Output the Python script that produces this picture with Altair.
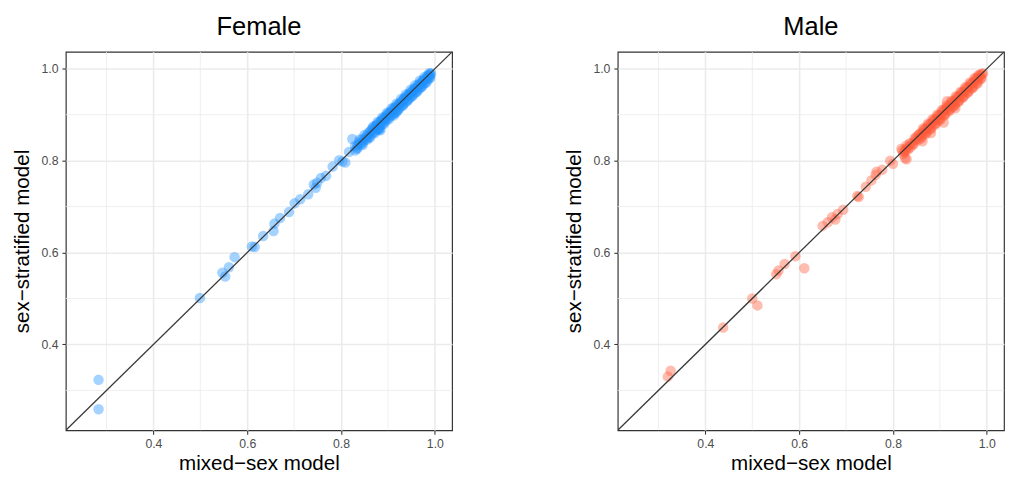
import altair as alt
import pandas as pd

# ---------------- data ----------------
female_mixed = [
    0.283, 0.283, 0.499, 0.547, 0.553, 0.561, 0.573, 0.610, 0.616, 0.634,
    0.656, 0.658, 0.670, 0.689, 0.701, 0.713, 0.730, 0.742, 0.749, 0.746,
    0.757, 0.768, 0.782, 0.796, 0.803, 0.809, 0.817, 0.824, 0.830, 0.835,
    0.830, 0.834, 0.838, 0.842, 0.845, 0.848, 0.852, 0.855, 0.858, 0.860,
    0.862, 0.865, 0.867, 0.870, 0.872, 0.874, 0.876, 0.878, 0.880, 0.882,
    0.884, 0.886, 0.888, 0.890, 0.892, 0.894, 0.896, 0.898, 0.900, 0.902,
    0.904, 0.906, 0.908, 0.910, 0.912, 0.914, 0.916, 0.918, 0.920, 0.922,
    0.924, 0.926, 0.928, 0.930, 0.932, 0.934, 0.936, 0.938, 0.940, 0.942,
    0.944, 0.946, 0.948, 0.950, 0.952, 0.954, 0.956, 0.958, 0.960, 0.962,
    0.964, 0.966, 0.968, 0.970, 0.972, 0.974, 0.976, 0.978, 0.980, 0.982,
    0.984, 0.986, 0.988, 0.990, 0.985, 0.975, 0.965, 0.955, 0.945, 0.935,
    0.925, 0.915, 0.905, 0.895, 0.885, 0.875, 0.865, 0.855, 0.845, 0.835,
    0.884, 0.917, 0.880, 0.988, 0.990, 0.992,
    0.862, 0.872, 0.882, 0.892, 0.902, 0.912, 0.922, 0.932, 0.942, 0.952,
    0.962, 0.972, 0.982, 0.990, 0.868, 0.878, 0.888, 0.898, 0.908, 0.918,
    0.928, 0.938, 0.948, 0.958, 0.968, 0.978, 0.840, 0.850, 0.846, 0.856,
]
female_stratified = [
    0.323, 0.259, 0.501, 0.556, 0.548, 0.568, 0.590, 0.613, 0.612, 0.636,
    0.647, 0.663, 0.675, 0.688, 0.707, 0.716, 0.727, 0.748, 0.752, 0.741,
    0.762, 0.767, 0.787, 0.801, 0.798, 0.796, 0.819, 0.847, 0.822, 0.828,
    0.832, 0.826, 0.840, 0.836, 0.846, 0.842, 0.850, 0.848, 0.860, 0.852,
    0.864, 0.858, 0.870, 0.862, 0.874, 0.866, 0.878, 0.870, 0.868, 0.884,
    0.876, 0.888, 0.880, 0.892, 0.884, 0.894, 0.888, 0.900, 0.892, 0.904,
    0.896, 0.906, 0.900, 0.912, 0.902, 0.914, 0.906, 0.918, 0.910, 0.922,
    0.914, 0.926, 0.918, 0.930, 0.922, 0.934, 0.926, 0.938, 0.930, 0.942,
    0.934, 0.946, 0.938, 0.950, 0.942, 0.952, 0.946, 0.958, 0.950, 0.960,
    0.954, 0.964, 0.958, 0.968, 0.962, 0.972, 0.966, 0.976, 0.970, 0.980,
    0.976, 0.984, 0.980, 0.988, 0.986, 0.976, 0.966, 0.956, 0.944, 0.936,
    0.924, 0.916, 0.904, 0.896, 0.884, 0.876, 0.866, 0.854, 0.838, 0.834,
    0.866, 0.904, 0.870, 0.990, 0.985, 0.990,
    0.850, 0.860, 0.868, 0.880, 0.890, 0.898, 0.910, 0.920, 0.930, 0.940,
    0.950, 0.960, 0.970, 0.980, 0.874, 0.884, 0.894, 0.904, 0.914, 0.924,
    0.934, 0.944, 0.954, 0.964, 0.974, 0.982, 0.846, 0.856, 0.834, 0.846,
]

male_mixed = [
    0.326, 0.320, 0.438, 0.500, 0.511, 0.551, 0.556, 0.569, 0.592, 0.611,
    0.650, 0.661, 0.670, 0.677, 0.682, 0.694, 0.724, 0.727, 0.742, 0.754,
    0.763, 0.765, 0.777, 0.794, 0.800, 0.818, 0.826, 0.829, 0.829, 0.863,
    0.881, 0.908, 0.933, 0.915,
    0.820, 0.824, 0.828, 0.832, 0.836, 0.840, 0.844, 0.848, 0.850, 0.852,
    0.855, 0.858, 0.860, 0.862, 0.865, 0.868, 0.870, 0.872, 0.875, 0.878,
    0.880, 0.882, 0.885, 0.888, 0.890, 0.892, 0.895, 0.898, 0.900, 0.902,
    0.905, 0.908, 0.910, 0.912, 0.915, 0.918, 0.920, 0.922, 0.925, 0.928,
    0.930, 0.932, 0.935, 0.938, 0.940, 0.942, 0.945, 0.948, 0.950, 0.952,
    0.955, 0.958, 0.960, 0.962, 0.965, 0.968, 0.970, 0.972, 0.975, 0.978,
    0.980, 0.982, 0.985, 0.988, 0.990, 0.992, 0.986, 0.976, 0.966, 0.956,
    0.946, 0.936, 0.926, 0.916, 0.906, 0.896, 0.886, 0.876, 0.866, 0.856,
    0.846, 0.836, 0.826,
    0.860, 0.870, 0.880, 0.890, 0.900, 0.910, 0.920, 0.930, 0.940, 0.950,
    0.960, 0.970, 0.980, 0.988, 0.864, 0.874, 0.884, 0.894, 0.904, 0.914,
    0.924, 0.934, 0.944, 0.954, 0.964, 0.974, 0.982, 0.822, 0.832, 0.842,
]
male_stratified = [
    0.343, 0.330, 0.437, 0.500, 0.485, 0.553, 0.561, 0.575, 0.592, 0.566,
    0.658, 0.666, 0.677, 0.672, 0.684, 0.693, 0.723, 0.721, 0.743, 0.757,
    0.769, 0.776, 0.780, 0.800, 0.793, 0.826, 0.805, 0.833, 0.803, 0.842,
    0.860, 0.883, 0.914, 0.929,
    0.822, 0.818, 0.826, 0.830, 0.828, 0.838, 0.836, 0.846, 0.852, 0.844,
    0.856, 0.850, 0.860, 0.854, 0.864, 0.860, 0.870, 0.862, 0.874, 0.870,
    0.880, 0.872, 0.884, 0.880, 0.890, 0.882, 0.894, 0.890, 0.900, 0.892,
    0.904, 0.900, 0.912, 0.902, 0.914, 0.910, 0.920, 0.912, 0.924, 0.918,
    0.930, 0.922, 0.934, 0.928, 0.940, 0.932, 0.944, 0.938, 0.950, 0.942,
    0.954, 0.948, 0.960, 0.952, 0.964, 0.958, 0.970, 0.962, 0.974, 0.968,
    0.980, 0.974, 0.984, 0.980, 0.988, 0.990, 0.988, 0.978, 0.968, 0.958,
    0.948, 0.938, 0.928, 0.918, 0.908, 0.898, 0.888, 0.878, 0.868, 0.858,
    0.848, 0.838, 0.820,
    0.848, 0.858, 0.868, 0.878, 0.888, 0.898, 0.908, 0.918, 0.928, 0.938,
    0.948, 0.958, 0.968, 0.978, 0.870, 0.880, 0.890, 0.900, 0.910, 0.920,
    0.930, 0.940, 0.950, 0.960, 0.970, 0.980, 0.986, 0.814, 0.824, 0.834,
]

panel_titles = ["Female", "Male"]
panel_colors = ["#1E90FF", "#FF5A3A"]
axis_limits = [0.2133, 1.0367]
major_ticks = [0.4, 0.6, 0.8, 1.0]
minor_ticks = [0.3, 0.5, 0.7, 0.9]

FONT = "Liberation Sans"
GRID = "#EBEBEB"
W, H = 394, 386

scale = alt.Scale(domain=axis_limits, nice=False, zero=False)


def panel(xs, ys, color, title):
    pts = pd.DataFrame({"mixed": xs, "strat": ys})
    minor = pd.DataFrame({"v": minor_ticks})
    diag = pd.DataFrame({"mixed": axis_limits, "strat": axis_limits})

    xax = alt.Axis(values=major_ticks, format=".1f", title="mixed\u2212sex model")
    yax = alt.Axis(values=major_ticks, format=".1f", title="sex\u2212stratified model")

    vgrid = alt.Chart(minor).mark_rule(color=GRID, strokeWidth=0.8).encode(
        x=alt.X("v:Q", scale=scale, axis=xax)
    )
    hgrid = alt.Chart(minor).mark_rule(color=GRID, strokeWidth=0.8).encode(
        y=alt.Y("v:Q", scale=scale, axis=yax)
    )
    dots = alt.Chart(pts).mark_circle(size=115, opacity=0.4, color=color).encode(
        x=alt.X("mixed:Q", scale=scale, axis=xax),
        y=alt.Y("strat:Q", scale=scale, axis=yax),
    )
    line = alt.Chart(diag).mark_line(color="#383838", strokeWidth=1.3, clip=True).encode(
        x=alt.X("mixed:Q", scale=scale, axis=xax),
        y=alt.Y("strat:Q", scale=scale, axis=yax),
    )
    return alt.layer(vgrid, hgrid, dots, line).properties(
        width=W,
        height=H,
        title=alt.TitleParams(
            title, fontSize=26, font=FONT, fontWeight="normal", color="black",
            anchor="middle", offset=12,
        ),
    )


left = panel(female_mixed, female_stratified, panel_colors[0], panel_titles[0])
right = panel(male_mixed, male_stratified, panel_colors[1], panel_titles[1])

chart = (
    alt.hconcat(left, right, spacing=112)
    .properties(padding={"left": 3, "top": 1, "right": 0, "bottom": 0})
    .configure_view(stroke="#333333", strokeWidth=1.2)
    .configure_axis(
        grid=True,
        gridColor=GRID,
        gridWidth=1.6,
        domain=False,
        ticks=True,
        tickColor="#333333",
        tickSize=4,
        tickWidth=1.1,
        labelFont=FONT,
        labelFontSize=12.5,
        labelColor="#4D4D4D",
        labelPadding=4,
        titleFont=FONT,
        titleFontSize=21,
        titleFontWeight="normal",
        titleColor="black",
    )
    .configure_axisX(titlePadding=3)
    .configure_axisY(titlePadding=9)
)

chart.save("out.html", embed_options={"renderer": "svg", "actions": False})
